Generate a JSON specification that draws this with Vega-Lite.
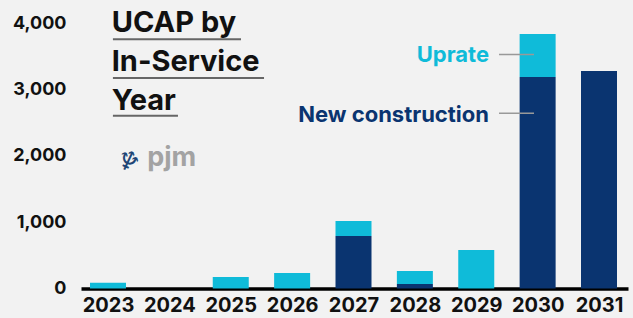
{
  "$schema": "https://vega.github.io/schema/vega-lite/v6.json",
  "width": 547,
  "height": 265.5,
  "autosize": {"type": "none"},
  "padding": {"left": 81, "right": 5, "top": 23, "bottom": 29.5},
  "background": "#f2f2f2",
  "config": {
    "font": "Inter",
    "view": {"stroke": null},
    "text": {"font": "Inter"}
  },
  "layer": [
    {
      "data": {
        "values": [
          {"year": 2023, "type": "New construction", "ucap": 0},
          {"year": 2023, "type": "Uprate", "ucap": 87},
          {"year": 2024, "type": "New construction", "ucap": 0},
          {"year": 2024, "type": "Uprate", "ucap": 0},
          {"year": 2025, "type": "New construction", "ucap": 0},
          {"year": 2025, "type": "Uprate", "ucap": 173},
          {"year": 2026, "type": "New construction", "ucap": 0},
          {"year": 2026, "type": "Uprate", "ucap": 233},
          {"year": 2027, "type": "New construction", "ucap": 790},
          {"year": 2027, "type": "Uprate", "ucap": 227},
          {"year": 2028, "type": "New construction", "ucap": 68},
          {"year": 2028, "type": "Uprate", "ucap": 196},
          {"year": 2029, "type": "New construction", "ucap": 0},
          {"year": 2029, "type": "Uprate", "ucap": 580},
          {"year": 2030, "type": "New construction", "ucap": 3185},
          {"year": 2030, "type": "Uprate", "ucap": 648},
          {"year": 2031, "type": "New construction", "ucap": 3276},
          {"year": 2031, "type": "Uprate", "ucap": 0}
        ]
      },
      "mark": {"type": "bar", "size": 36},
      "encoding": {
        "x": {
          "field": "year",
          "type": "quantitative",
          "scale": {"domain": [2022.56, 2031.4725], "nice": false, "zero": false, "padding": 0},
          "axis": {
            "values": [2023, 2024, 2025, 2026, 2027, 2028, 2029, 2030, 2031],
            "format": "d",
            "title": null,
            "grid": false,
            "ticks": false,
            "domain": true,
            "domainColor": "#000000",
            "domainWidth": 3.5,
            "labelFontSize": 20,
            "labelFontWeight": "bold",
            "labelColor": "#111111",
            "labelPadding": 7,
            "labelFlush": false,
            "labelOverlap": false
          }
        },
        "y": {
          "field": "ucap",
          "type": "quantitative",
          "stack": "zero",
          "scale": {"domain": [0, 4000], "nice": false, "padding": 0},
          "axis": {
            "values": [0, 1000, 2000, 3000, 4000],
            "format": ",d",
            "title": null,
            "grid": false,
            "ticks": false,
            "domain": false,
            "labelFontSize": 18,
            "labelFontWeight": "bold",
            "labelColor": "#111111",
            "labelPadding": 15
          }
        },
        "color": {
          "field": "type",
          "type": "nominal",
          "scale": {"domain": ["New construction", "Uprate"], "range": ["#0a3470", "#0fbbd9"]},
          "legend": null
        },
        "order": {"field": "type", "sort": "ascending"}
      }
    },
    {
      "data": {"values": [{}]},
      "mark": {"type": "text", "text": ["UCAP by", "In-Service", "Year"], "lineHeight": 39, "align": "left", "baseline": "alphabetic", "fontSize": 29, "fontWeight": "bold", "color": "#111111"},
      "encoding": {
        "x": {"datum": 2023.06, "type": "quantitative"},
        "y": {"datum": 3869, "type": "quantitative"}
      }
    },
    {
      "data": {"values": [{}]},
      "mark": {"type": "rule", "color": "#666666", "strokeWidth": 2},
      "encoding": {
        "x": {"datum": 2023.08, "type": "quantitative"},
        "x2": {"datum": 2025.167},
        "y": {"datum": 3756, "type": "quantitative"}
      }
    },
    {
      "data": {"values": [{}]},
      "mark": {"type": "rule", "color": "#666666", "strokeWidth": 2},
      "encoding": {
        "x": {"datum": 2023.08, "type": "quantitative"},
        "x2": {"datum": 2025.542},
        "y": {"datum": 3170, "type": "quantitative"}
      }
    },
    {
      "data": {"values": [{}]},
      "mark": {"type": "rule", "color": "#666666", "strokeWidth": 2},
      "encoding": {
        "x": {"datum": 2023.08, "type": "quantitative"},
        "x2": {"datum": 2024.14},
        "y": {"datum": 2602, "type": "quantitative"}
      }
    },
    {
      "data": {"values": [{}]},
      "mark": {"type": "text", "text": "Uprate", "align": "right", "baseline": "middle", "fontSize": 22, "fontWeight": "bold", "color": "#0fbbd9"},
      "encoding": {
        "x": {"datum": 2029.208, "type": "quantitative"},
        "y": {"datum": 3522, "type": "quantitative"}
      }
    },
    {
      "data": {"values": [{}]},
      "mark": {"type": "text", "text": "New construction", "align": "right", "baseline": "middle", "fontSize": 22, "fontWeight": "bold", "color": "#0a3470"},
      "encoding": {
        "x": {"datum": 2029.208, "type": "quantitative"},
        "y": {"datum": 2612, "type": "quantitative"}
      }
    },
    {
      "data": {"values": [{}]},
      "mark": {"type": "rule", "color": "#999999", "strokeWidth": 1.5},
      "encoding": {
        "x": {"datum": 2029.371, "type": "quantitative"},
        "x2": {"datum": 2029.941},
        "y": {"datum": 3526, "type": "quantitative"}
      }
    },
    {
      "data": {"values": [{}]},
      "mark": {"type": "rule", "color": "#999999", "strokeWidth": 1.5},
      "encoding": {
        "x": {"datum": 2029.371, "type": "quantitative"},
        "x2": {"datum": 2029.941},
        "y": {"datum": 2642, "type": "quantitative"}
      }
    },
    {
      "data": {"values": [{}]},
      "mark": {"type": "text", "text": "pjm", "align": "left", "baseline": "alphabetic", "fontSize": 27, "fontWeight": "bold", "color": "#a3a3a3"},
      "encoding": {
        "x": {"datum": 2023.64, "type": "quantitative"},
        "y": {"datum": 1840, "type": "quantitative"}
      }
    },
    {
      "data": {"values": [{}]},
      "mark": {"type": "text", "text": "♆", "font": "DejaVu Sans", "align": "center", "baseline": "middle", "fontSize": 27, "angle": 25, "color": "#1f4676"},
      "encoding": {
        "x": {"datum": 2023.32, "type": "quantitative"},
        "y": {"datum": 1900, "type": "quantitative"}
      }
    }
  ]
}
